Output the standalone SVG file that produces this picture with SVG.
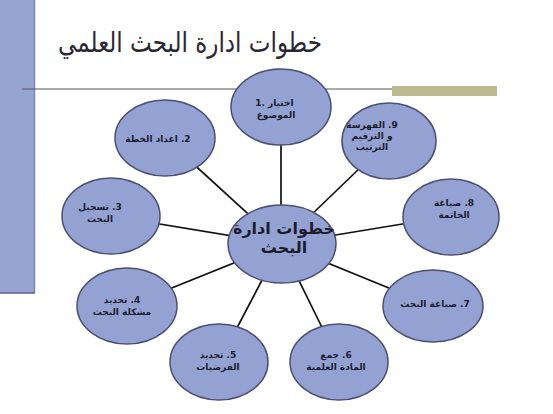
<svg xmlns="http://www.w3.org/2000/svg" width="553" height="414" viewBox="0 0 553 414">
<style>
.node ellipse{fill:#93a2d3;stroke:#4b5070;stroke-width:1.5}
.lbl{font-family:"DejaVu Sans",sans-serif;font-size:9px;font-weight:bold;fill:#1c1c2c;text-anchor:middle}
.rtl{direction:rtl;unicode-bidi:embed}
.spoke{stroke:#111;stroke-width:1.7}
</style>
<rect x="0" y="0" width="553" height="414" fill="#ffffff"/>
<g id="sidebar">
<rect x="0" y="0" width="35" height="293" fill="#97a4d2"/>
<line x1="34.5" y1="0" x2="34.5" y2="293" stroke="#7a84ad" stroke-width="1.5"/>
<line x1="0" y1="293" x2="35" y2="293" stroke="#5c6286" stroke-width="1.5"/>
</g>
<g id="title">
<text x="190" y="52" font-family="DejaVu Sans, sans-serif" font-size="28" fill="#2b2735" text-anchor="middle" style="direction:rtl;unicode-bidi:embed" textLength="264" lengthAdjust="spacingAndGlyphs">خطوات ادارة البحث العلمي</text>
</g>
<g id="rule">
<line x1="22" y1="89" x2="495" y2="89" stroke="#555555" stroke-width="1"/>
<rect x="392" y="86" width="105" height="10" fill="#bcb88f"/>
</g>
<g id="connectors">
<line class="spoke" x1="281" y1="244" x2="281" y2="107"/>
<line class="spoke" x1="281" y1="244" x2="165" y2="138"/>
<line class="spoke" x1="281" y1="244" x2="388" y2="141"/>
<line class="spoke" x1="281" y1="244" x2="111" y2="216"/>
<line class="spoke" x1="281" y1="244" x2="451" y2="216"/>
<line class="spoke" x1="281" y1="244" x2="127" y2="306"/>
<line class="spoke" x1="281" y1="244" x2="433" y2="306"/>
<line class="spoke" x1="281" y1="244" x2="219" y2="362"/>
<line class="spoke" x1="281" y1="244" x2="339" y2="362"/>
</g>
<g id="node-center" class="node">
<ellipse cx="282" cy="244" rx="54" ry="39"/>
<text class="rtl" x="284" y="234" font-family="DejaVu Sans, sans-serif" font-size="16" font-weight="bold" fill="#1c1c2c" text-anchor="middle">خطوات ادارة</text>
<text class="rtl" x="284" y="253" font-family="DejaVu Sans, sans-serif" font-size="16" font-weight="bold" fill="#1c1c2c" text-anchor="middle">البحث</text>
</g>
<g id="node-1" class="node">
<ellipse cx="281" cy="107" rx="50" ry="38"/>
<text class="lbl" x="265" y="106" style="text-anchor:end">1.</text>
<text class="lbl" x="268" y="106" style="text-anchor:start">اختيار</text>
<text class="lbl rtl" x="276" y="118">الموضوع</text>
</g>
<g id="node-2" class="node">
<ellipse cx="165" cy="138" rx="50" ry="38"/>
<text class="lbl rtl" x="158" y="142">2. اعداد الخطة</text>
</g>
<g id="node-9" class="node">
<ellipse cx="389" cy="141" rx="47" ry="38"/>
<text class="lbl rtl" x="372" y="128">9. الفهرسة</text>
<text class="lbl rtl" x="372" y="139">و  الترقيم</text>
<text class="lbl rtl" x="372" y="150">الترتيب</text>
</g>
<g id="node-3" class="node">
<ellipse cx="111" cy="216" rx="49" ry="38"/>
<text class="lbl rtl" x="100" y="210">3. تسجيل</text>
<text class="lbl rtl" x="100" y="222">البحث</text>
</g>
<g id="node-8" class="node">
<ellipse cx="451" cy="217" rx="48" ry="38"/>
<text class="lbl rtl" x="454" y="206">8. صياغة</text>
<text class="lbl rtl" x="454" y="218">الخاتمة</text>
</g>
<g id="node-4" class="node">
<ellipse cx="127" cy="306" rx="50" ry="38"/>
<text class="lbl rtl" x="122" y="303">4. تحديد</text>
<text class="lbl rtl" x="122" y="315">مشكلة البحث</text>
</g>
<g id="node-7" class="node">
<ellipse cx="433" cy="306" rx="50" ry="36"/>
<text class="lbl rtl" x="435" y="307">7. صياغة البحث</text>
</g>
<g id="node-5" class="node">
<ellipse cx="219" cy="362" rx="49" ry="38"/>
<text class="lbl rtl" x="218" y="358">5.   تحديد</text>
<text class="lbl rtl" x="218" y="370">الفرضيات</text>
</g>
<g id="node-6" class="node">
<ellipse cx="339" cy="362" rx="49" ry="38"/>
<text class="lbl rtl" x="336" y="358">6.  جمع</text>
<text class="lbl rtl" x="336" y="370">المادة العلمية</text>
</g>
</svg>
